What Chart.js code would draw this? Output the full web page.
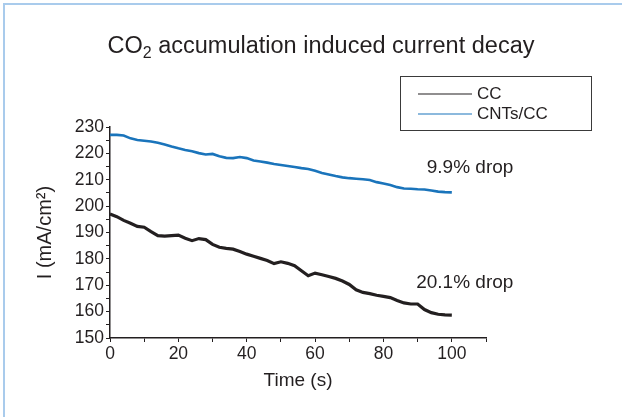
<!DOCTYPE html>
<html>
<head>
<meta charset="utf-8">
<script src="https://cdn.jsdelivr.net/npm/chart.js@4/dist/chart.umd.min.js"></script>
<style>
  html, body { margin: 0; padding: 0; background: #fff; overflow: hidden; }
  #wrap { position: relative; width: 622px; height: 417px; }
  #frame { position: absolute; left: 3px; top: 3px; width: 619px; height: 414px;
           border-left: 2px solid #a9cbec; border-top: 2px solid #a9cbec; pointer-events: none; }
  canvas { position: absolute; left: 0; top: 0; }
</style>
</head>
<body>
<div id="wrap">
  <canvas id="chart" width="622" height="417"></canvas>
  <div id="frame"></div>
</div>
<script>
const times = [0,2,4,6,8,10,12,14,16,18,20,22,24,26,28,30,32,34,36,38,40,42,44,46,48,50,
  52,54,56,58,60,62,64,66,68,70,72,74,76,78,80,82,84,86,88,90,92,94,96,98,100];

const ccCurrent = [197,196,194.6,193.5,192.3,192,190.3,188.8,188.6,188.8,189,187.8,186.9,187.7,187.3,185.5,
  184.4,184,183.7,182.8,181.8,181,180.2,179.4,178.2,178.9,178.3,177.4,175.5,173.6,174.6,174,173.3,
  172.6,171.6,170.3,168.3,167.3,166.8,166.2,165.8,165.3,164.2,163.3,162.9,162.9,160.8,159.6,159,158.8,158.7];

const cntCurrent = [227,227,226.8,225.7,225.1,224.8,224.5,224,223.4,222.6,221.9,221.3,220.8,220.1,219.6,219.8,
  218.9,218.3,218.2,218.6,218.2,217.3,216.9,216.5,216,215.6,215.2,214.8,214.4,214.1,213.4,212.6,212,
  211.4,210.9,210.6,210.4,210.2,209.9,209.1,208.6,208,207.2,206.7,206.6,206.4,206.3,205.9,205.5,205.3,205.2];

const seriesNames = ['CC', 'CNTs/CC'];
const seriesColors = ['#231f20', '#1a74bb'];
const dropLabels = [
  { text: '20.1% drop', x: 118, y: 170.8 },
  { text: '9.9% drop', x: 118, y: 214.4 }
];

const ink = '#231f20';
const fontFamily = '"Liberation Sans", Arial, sans-serif';

const titlePlugin = {
  id: 'subTitle',
  afterDraw(chart) {
    const c = chart.ctx;
    c.save();
    c.fillStyle = ink;
    c.textBaseline = 'alphabetic';
    const big = '23.5px ' + fontFamily, small = '16px ' + fontFamily;
    c.font = big; const w1 = c.measureText('CO').width;
    const rest = ' accumulation induced current decay';
    const w3 = c.measureText(rest).width;
    c.font = small; const w2 = c.measureText('2').width;
    let x = 321 - (w1 + w2 + w3) / 2, y = 53;
    c.font = big; c.textAlign = 'left'; c.fillText('CO', x, y); x += w1;
    c.font = small; c.fillText('2', x, y + 5); x += w2;
    c.font = big; c.fillText(rest, x, y);
    c.restore();
  }
};

const legendPlugin = {
  id: 'boxLegend',
  afterDraw(chart) {
    const c = chart.ctx;
    c.save();
    c.strokeStyle = '#3a3a3a';
    c.lineWidth = 1;
    c.strokeRect(400.5, 76.5, 191, 54);
    c.font = '17px ' + fontFamily;
    c.textBaseline = 'middle';
    chart.data.datasets.forEach((ds, i) => {
      const y = 94 + i * 20;
      c.strokeStyle = ds.borderColor;
      c.lineWidth = 1.2;
      c.beginPath(); c.moveTo(418, y); c.lineTo(472, y); c.stroke();
      c.fillStyle = ink;
      c.fillText(ds.label, 477, y);
    });
    c.restore();
  }
};

const notePlugin = {
  id: 'dropNotes',
  afterDraw(chart) {
    const c = chart.ctx, xs = chart.scales.x, ys = chart.scales.y;
    c.save();
    c.font = '19px ' + fontFamily;
    c.fillStyle = ink;
    c.textAlign = 'right';
    c.textBaseline = 'middle';
    dropLabels.forEach(d => c.fillText(d.text, xs.getPixelForValue(d.x), ys.getPixelForValue(d.y)));
    c.restore();
  }
};

new Chart(document.getElementById('chart'), {
  type: 'line',
  data: {
    datasets: [
      { label: seriesNames[0], data: times.map((t, i) => ({ x: t, y: ccCurrent[i] })),
        borderColor: seriesColors[0], borderWidth: 3.2, pointRadius: 0, tension: 0 },
      { label: seriesNames[1], data: times.map((t, i) => ({ x: t, y: cntCurrent[i] })),
        borderColor: seriesColors[1], borderWidth: 2.6, pointRadius: 0, tension: 0 }
    ]
  },
  options: {
    responsive: false,
    animation: false,
    layout: { padding: { left: 0, right: 136, top: 127, bottom: 0 } },
    plugins: { legend: { display: false }, title: { display: false }, tooltip: { enabled: false } },
    scales: {
      x: {
        type: 'linear', min: 0, max: 110,
        afterFit: s => { s.height = 79; },
        border: { display: true, color: ink, width: 1.5 },
        grid: { drawOnChartArea: false, drawTicks: true, tickLength: 4, color: ink },
        ticks: {
          stepSize: 10, color: ink, font: { family: fontFamily, size: 17.5 }, padding: 2,
          maxRotation: 0, autoSkip: false,
          callback: v => (v % 20 === 0 && v <= 100) ? String(v) : ''
        },
        title: { display: true, text: 'Time (s)', color: ink, font: { family: fontFamily, size: 19 },
                 padding: { top: 0, bottom: 25 } }
      },
      y: {
        min: 150, max: 230,
        afterFit: s => { s.width = 110; },
        border: { display: true, color: ink, width: 1.5 },
        grid: { drawOnChartArea: false, drawTicks: true, tickLength: 4, color: ink },
        ticks: {
          stepSize: 5, color: ink, font: { family: fontFamily, size: 17.5 }, padding: 2, autoSkip: false,
          callback: v => v % 10 === 0 ? String(v) : ''
        },
        title: { display: true, text: 'I (mA/cm²)', color: ink, font: { family: fontFamily, size: 20 },
                 padding: { top: 33, bottom: 0 } }
      }
    }
  },
  plugins: [titlePlugin, legendPlugin, notePlugin]
});
</script>
</body>
</html>
